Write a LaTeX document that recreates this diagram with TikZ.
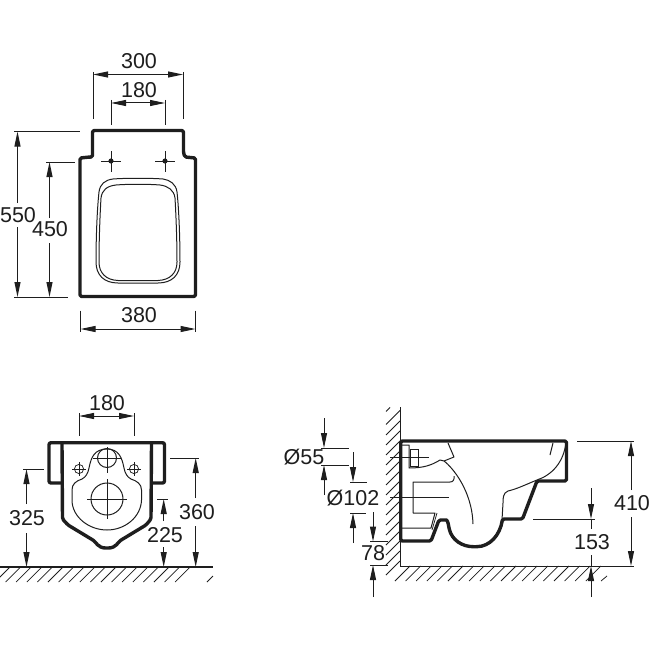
\documentclass[tikz,border=0pt]{standalone}
\usepackage{fontspec}
\setmainfont{Liberation Sans}
\usetikzlibrary{arrows.meta}
\definecolor{ink}{HTML}{1E1E1E}
\tikzset{
  thick outline/.style={draw=ink,line width=3.4pt,line join=round},
  thin outline/.style={draw=ink,line width=1pt,line join=round},
  cross line/.style={draw=ink,line width=0.75pt},
  dimline/.style={draw=ink,line width=1pt},
  hatchline/.style={draw=ink,line width=0.75pt},
  arrowend/.style={dimline,-{Triangle[length=15pt,width=6pt]}},
  twoends/.style={dimline,{Triangle[length=15pt,width=6pt]}-{Triangle[length=15pt,width=6pt]}},
  dimlabel/.style={text=ink,inner sep=0pt,font=\fontsize{21.5}{21.5}\selectfont}
}
\begin{document}
\begin{tikzpicture}[x=1pt,y=-1pt]
\useasboundingbox (0,0) rectangle (650,650);
% ===== top view =====
\draw[thick outline,rounded corners=1.5pt] (92.5,157) -- (92.5,130.5) -- (183.5,130.5) -- (183.5,153) -- (185,157) -- (195.5,158) -- (195.5,296.5) -- (80,296.5) -- (80,158) -- (90,157) -- cycle;
\draw[thin outline] (113,179) .. controls (105,180) and (100,184) .. (99,192) .. controls (97,210) and (96,240) .. (96,262) .. controls (96,275) and (104,283) .. (118,283) -- (158,283) .. controls (172,283) and (180,275) .. (180,262) .. controls (180,240) and (179,210) .. (177,192) .. controls (176,184) and (170,180) .. (163,179) .. controls (150,178) and (126,178) .. cycle;
\draw[thin outline] (116,185) .. controls (107,186) and (102,190) .. (101,198) .. controls (100,215) and (99,240) .. (99,262) .. controls (99,273) and (106,280) .. (118,280.5) -- (158,280.5) .. controls (170,280) and (177,273) .. (177,262) .. controls (177,240) and (176,215) .. (175,198) .. controls (174,190) and (168,186) .. (160,185) .. controls (148,184) and (128,184) .. cycle;
\foreach \cx in {111,165}{
  \draw[cross line] (\cx-10,161) -- (\cx+10,161) (\cx,151) -- (\cx,172);
  \fill[ink] (\cx,161) circle (2.6pt);
}
\draw[twoends] (93,74.5) -- (183,74.5);
\draw[dimline] (93,72) -- (93,119) (183,72) -- (183,119);
\node[dimlabel] (topwidth) at (139,61) {300};
\draw[twoends] (111,103) -- (165,103);
\draw[dimline] (111,100) -- (111,125) (165,100) -- (165,125);
\node[dimlabel] (topholes) at (139,90) {180};
\draw[dimline] (14,131.5) -- (80,131.5) (46,162) -- (75,162) (14,297) -- (68,297);
\draw[arrowend] (17.5,203) -- (17.5,131.5);
\draw[arrowend] (17.5,227) -- (17.5,297);
\node[dimlabel] (toplength) at (18,215) {550};
\draw[arrowend] (49.5,218) -- (49.5,162);
\draw[arrowend] (49.5,243) -- (49.5,297);
\node[dimlabel] (topholelen) at (50,229.5) {450};
\draw[twoends] (80.5,329) -- (195.5,329);
\draw[dimline] (80.5,310.5) -- (80.5,332) (195.5,310.5) -- (195.5,332);
\node[dimlabel] (topbody) at (139,315) {380};
% ===== front view =====
\draw[thick outline,rounded corners=2pt] (62,483) -- (49,483) -- (49,442.7) -- (164.5,442.7) -- (164.5,483) -- (152,483);
\draw[thick outline,rounded corners=1.5pt] (62,443) -- (62.5,519) -- (68,525) -- (92,539.5) .. controls (96,542) and (98,548) .. (107,548) .. controls (116,548) and (118,542) .. (122,539.5) -- (146,525) -- (151,519) -- (151.5,443);
\draw[thin outline] (72,490) .. controls (72,484) and (76,481) .. (82,479) .. controls (86,477) and (88,473) .. (89,468) .. controls (91,458) and (94,449) .. (107,449) .. controls (119,449) and (122,458) .. (124,468) .. controls (125,473) and (127,477) .. (131,479) .. controls (137,481) and (141.5,484) .. (141.5,490) -- (141.5,500) .. controls (141,517) and (125,530) .. (107,530) .. controls (89,530) and (72,517) .. (72,500) -- cycle;
\draw[thin outline] (107,458) circle (9.5pt) (107,499) circle (16pt);
\draw[cross line] (79,469) circle (4.6pt) (134,469) circle (4.6pt);
\draw[cross line] (93,458) -- (121,458) (107,447) -- (107,473);
\draw[cross line] (87,499) -- (127,499) (107,479) -- (107,519);
\foreach \cx in {79,134}{ \draw[cross line] (\cx-7,469) -- (\cx+7,469) (\cx,462) -- (\cx,476); }
\draw[twoends] (79,416) -- (134,416);
\draw[dimline] (79,413) -- (79,436) (134,413) -- (134,436);
\node[dimlabel] (frontholes) at (107,403) {180};
\draw[dimline] (23,469) -- (44,469) (170,458) -- (199,458) (157,499) -- (168,499);
\draw[arrowend] (26.5,504) -- (26.5,469);
\draw[arrowend] (26.5,533) -- (26.5,567);
\node[dimlabel] (frontleft) at (27,518) {325};
\draw[arrowend] (195.7,498) -- (195.7,458);
\draw[arrowend] (195.7,526) -- (195.7,567);
\node[dimlabel] (frontright) at (197,512) {360};
\draw[arrowend] (163.7,521) -- (163.7,499);
\draw[arrowend] (163.7,547) -- (163.7,567);
\node[dimlabel] (frontinner) at (165,535) {225};
% floor, front
\draw[draw=ink,line width=1.4pt] (0,567) -- (213,567);
\foreach \hx in {10,20.6,...,200}{ \draw[hatchline] (\hx,567) -- (\hx-15,582); }
\draw[hatchline] (213,576) -- (207,582);
% ===== side view =====
\draw[draw=ink,line width=1pt] (400,407) -- (400,566) -- (634,566);
\foreach \hy in {421,431,...,561}{ \draw[hatchline] (400,\hy) -- (386,\hy+14); }
\draw[hatchline] (400,410.5) -- (386,424.5);
\draw[hatchline] (390,407.5) -- (386,411.5);
\foreach \hx in {410,420.6,...,610}{ \draw[hatchline] (\hx,566) -- (\hx-15,581); }
\draw[hatchline] (607,576) -- (601,581);
\draw[thick outline,rounded corners=1.5pt] (400.7,441) -- (566.5,441) -- (566.5,481) -- (537,481) -- (522.5,519) -- (502.5,519) .. controls (500,535) and (490,546.7) .. (475,546.7) .. controls (462,546.7) and (452,540) .. (449,528) .. controls (448,522) and (447,520) .. (445,520) -- (439,520) -- (431,541) -- (400.7,541) -- cycle;
\draw[thin outline] (566,442) .. controls (564,462) and (552,475) .. (537,480) .. controls (527,484) and (517,489) .. (508,491) .. controls (503,493) and (503,498) .. (503,503) -- (502,520);
\draw[thin outline] (553,443) -- (550,455);
\draw[thin outline] (448,443) -- (454,457) -- (444,461) -- (440,460) .. controls (432,465) and (424,468) .. (409,468) -- (409,445) -- (402,445);
\draw[cross line] (410,449) rectangle (418,466);
\draw[cross line] (390,457) -- (429,457) (390,497) -- (449,497);
\draw[thin outline] (444,461) .. controls (452,467) and (472,490) .. (473,524);
\draw[thin outline] (454,476) .. controls (454.5,480) and (453,482) .. (450,482) -- (413,482) -- (413,513) -- (435,513) -- (431,528) -- (402,528);
\draw[cross line] (437,513) -- (432,530);
\draw[arrowend] (324,418) -- (324,448);
\draw[dimline] (321,448) -- (349,448) (321,465) -- (349,465);
\draw[arrowend] (324,495) -- (324,465);
\node[dimlabel,anchor=east] (sidesmall) at (324.5,457) {Ø55};
\draw[arrowend] (353,452) -- (353,482);
\draw[dimline] (350,482) -- (367,482) (350,513) -- (366,513);
\draw[arrowend] (353,543) -- (353,513);
\node[dimlabel] (sidebig) at (353,498) {Ø102};
\draw[arrowend] (373,512) -- (373,541.5);
\draw[dimline] (370,541.5) -- (388,541.5) (370,565) -- (388,565);
\draw[arrowend] (373,597) -- (373,565);
\node[dimlabel] (sideclear) at (373,553.5) {78};
\draw[dimline] (577,441) -- (634,441);
\draw[arrowend] (631,490) -- (631,441);
\draw[arrowend] (631,517) -- (631,566);
\node[dimlabel] (sideheight) at (632,503) {410};
\draw[dimline] (533,519) -- (595,519);
\draw[arrowend] (591,488) -- (591,519);
\draw[dimline] (591,519) -- (591,529) (591,555) -- (591,566);
\draw[arrowend] (591,597) -- (591,566);
\node[dimlabel] (sidebowl) at (592,542) {153};
\end{tikzpicture}
\end{document}
